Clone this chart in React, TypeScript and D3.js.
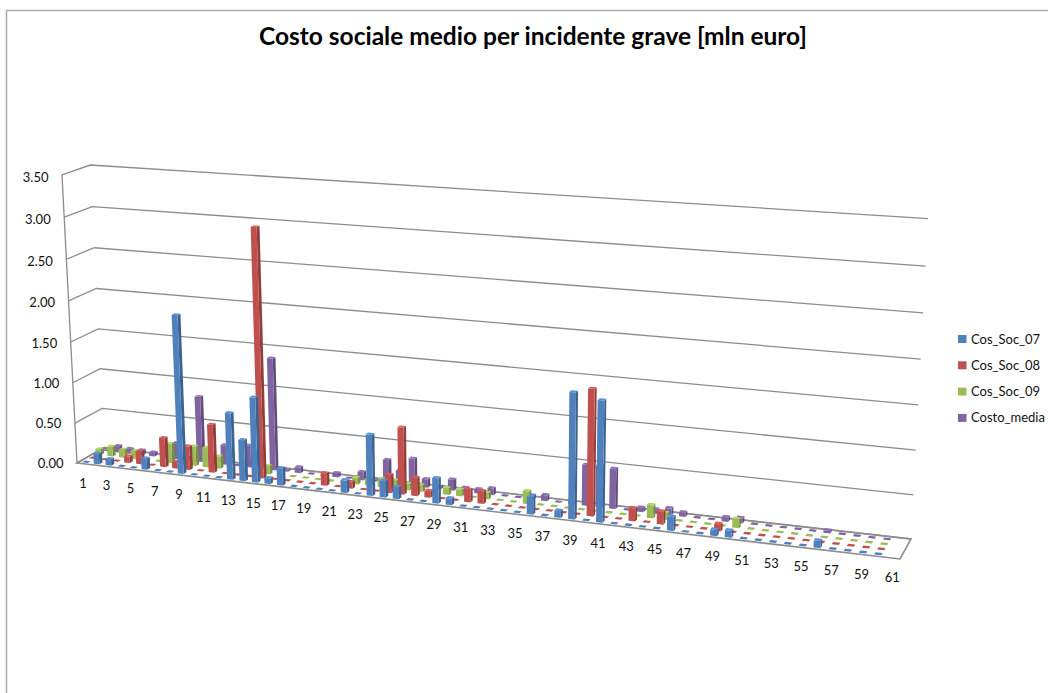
import React from "react";
import * as d3 from "d3";

const title = "Costo sociale medio per incidente grave [mln euro]";
const seriesNames = ["Cos_Soc_07", "Cos_Soc_08", "Cos_Soc_09", "Costo_media"];
const seriesColors = ["#4F81BD", "#C0504D", "#9BBB59", "#8064A2"];
const categories = d3.range(1, 62);
const yTicks = [0, 0.5, 1, 1.5, 2, 2.5, 3, 3.5];

const cosSoc07 = [
  0, 0.13, 0.08, 0, 0, 0.14, 0, 0, 1.93, 0,
  0, 0, 0.81, 0.5, 1.03, 0.07, 0.21, 0, 0, 0,
  0, 0.15, 0, 0.73, 0.2, 0.14, 0, 0, 0.3, 0.08,
  0, 0, 0, 0, 0, 0.21, 0, 0.08, 1.46, 0,
  1.4, 0, 0, 0, 0, 0.16, 0, 0, 0.07, 0.08,
  0, 0, 0, 0, 0, 0.08, 0, 0, 0, 0,
  null,
];
const cosSoc08 = [
  0, 0, 0, 0.08, 0.16, 0, 0.36, 0.08, 0.29, 0,
  0.59, 0, 0, 0, 3.0, 0, 0, 0, 0, 0.15,
  0, 0.08, 0, 0, 0.22, 0.8, 0.22, 0.08, 0, 0,
  0.15, 0.15, 0, 0, 0, 0, 0, 0, 0, 1.47,
  0, 0, 0.15, 0, 0.15, 0, 0, 0, 0.08, 0,
  0, 0, 0, 0, 0, 0, 0, 0, 0, 0,
  null,
];
const cosSoc09 = [
  0.07, 0.12, 0.1, 0.1, 0, 0, 0.24, 0, 0.24, 0.24,
  0.15, 0, 0, 0, 0.1, 0, 0, 0, 0, 0,
  0, 0.08, 0.08, 0.1, 0.1, 0.08, 0.08, 0, 0.08, 0.08,
  0, 0.08, 0, 0, 0.15, 0, 0, 0, 0, 0,
  0, 0, 0, 0.15, 0.08, 0, 0, 0, 0, 0.1,
  0, 0, 0, 0, 0, 0, 0, 0, 0, 0,
  null,
];
const costoMedia = [
  0.02, 0.08, 0.06, 0.06, 0.05, 0.05, 0.2, 0.03, 0.81, 0.08,
  0.24, 0, 0.27, 0.17, 1.37, 0.02, 0.07, 0, 0, 0.05,
  0, 0.1, 0.03, 0.28, 0.17, 0.33, 0.1, 0.03, 0.13, 0.05,
  0.05, 0.08, 0, 0, 0.05, 0.07, 0, 0.03, 0.48, 0.49,
  0.47, 0, 0.05, 0.05, 0.08, 0.05, 0, 0, 0.05, 0.06,
  0, 0, 0, 0, 0, 0.03, 0, 0, 0, 0,
  null,
];
const seriesValues = [cosSoc07, cosSoc08, cosSoc09, costoMedia];

const FONT = "Lato, Carlito, Calibri, sans-serif";

// Floor corners in screen space: front-left, front-right, back-right, back-left.
const FL = [77, 463];
const FR = [900, 559];
const BR = [911, 539];
const BL = [104, 447.5];
// Vertical vanishing point and the homogeneous weight of the value axis.
const VP = [491, 8410];
const WEIGHT_T = -0.035;

// Projective camera: homography for the floor plus a term for height.
function makeCamera() {
  const dx1 = [FR[0] - BR[0], FR[1] - BR[1]];
  const dx2 = [BL[0] - BR[0], BL[1] - BR[1]];
  const s = [FL[0] - FR[0] + BR[0] - BL[0], FL[1] - FR[1] + BR[1] - BL[1]];
  const det = dx1[0] * dx2[1] - dx1[1] * dx2[0];
  const g = (s[0] * dx2[1] - s[1] * dx2[0]) / det;
  const h = (dx1[0] * s[1] - dx1[1] * s[0]) / det;
  const a = [FR[0] - FL[0] + g * FR[0], FR[1] - FL[1] + g * FR[1]];
  const b = [BL[0] - FL[0] + h * BL[0], BL[1] - FL[1] + h * BL[1]];
  return (u: number, v: number, t: number): [number, number] => {
    const w = 1 + g * u + h * v + WEIGHT_T * t;
    return [
      (a[0] * u + b[0] * v + FL[0] + VP[0] * WEIGHT_T * t) / w,
      (a[1] * u + b[1] * v + FL[1] + VP[1] * WEIGHT_T * t) / w,
    ];
  };
}
const project = makeCamera();

const xScale = d3.scaleBand<number>().domain(categories).range([0, 1]);
const zScale = d3
  .scaleBand<string>()
  .domain(seriesNames)
  .range([0, 1]);
const tScale = d3.scaleLinear().domain([0, 3.5]).range([0, 1]);

const BAR_U = 0.47;
const BAR_V = 0.45;

const poly = (pts: [number, number][]) =>
  "M" + pts.map((p) => `${p[0].toFixed(2)},${p[1].toFixed(2)}`).join("L") + "Z";

function Bar({ cat, value, name, color }: { cat: number; value: number; name: string; color: string }) {
  const cu = xScale(cat)! + xScale.bandwidth() / 2;
  const cv = zScale(name)! + zScale.bandwidth() / 2;
  const du = (xScale.bandwidth() * BAR_U) / 2;
  const dv = (zScale.bandwidth() * BAR_V) / 2;
  const t = tScale(value);
  const u0 = cu - du, u1 = cu + du, v0 = cv - dv, v1 = cv + dv;
  const top = d3.color(color)!.brighter(0.35).formatHex();
  const side = d3.color(color)!.darker(0.75).formatHex();
  return (
    <g>
      {value > 0 && (
        <>
          <path d={poly([project(u1, v0, 0), project(u1, v1, 0), project(u1, v1, t), project(u1, v0, t)])} fill={side} />
          <path d={poly([project(u0, v0, 0), project(u1, v0, 0), project(u1, v0, t), project(u0, v0, t)])} fill={color} />
        </>
      )}
      <path d={poly([project(u0, v0, t), project(u1, v0, t), project(u1, v1, t), project(u0, v1, t)])} fill={value > 0 ? top : color} />
    </g>
  );
}

export default function App() {
  const gridColor = "#8C8C8C";
  return (
    <svg
      width={1048}
      height={693}
      viewBox="0 0 1048 693"
      style={{ position: "fixed", left: 0, top: 0, background: "#fff" }}
      fontFamily={FONT}
    >
      {/* chart frame, open on the right and at the bottom */}
      <path d="M6.5,693V10.5H1048" fill="none" stroke="#ABABAB" strokeWidth={1.5} />

      <text x={533} y={45} textAnchor="middle" fontSize={24.5} fontWeight={700} fill="#000">
        {title}
      </text>

      {/* side wall and back wall gridlines */}
      <g fill="none" stroke={gridColor} strokeWidth={1.3}>
        <path d={poly([project(0, 0, 0), project(1, 0, 0), project(1, 1, 0), project(0, 1, 0)])} strokeWidth={1.6} />
        <path d={`M${project(0, 0, 0)}L${project(0, 0, 1)}`} />
        {yTicks.map((tick) => {
          const t = tScale(tick);
          return <path key={tick} d={`M${project(0, 0, t)}L${project(0, 1, t)}L${project(1, 1, t)}`} />;
        })}
      </g>

      {/* value axis labels */}
      <g fontSize={13} fill="#111" textAnchor="end">
        {yTicks.map((tick) => {
          const t = tScale(tick);
          const [x, y] = project(0, 0, t);
          return (
            <text key={tick} x={x - 13.5} y={y + 4.5 + 2.5 * t}>
              {tick.toFixed(2)}
            </text>
          );
        })}
      </g>

      {/* rows run from the back wall to the front, each row left to right */}
      {[3, 2, 1, 0].map((s) => (
        <g key={seriesNames[s]}>
          {categories.map((cat, i) => {
            const value = seriesValues[s][i];
            if (value === null) return null;
            return <Bar key={cat} cat={cat} value={value} name={seriesNames[s]} color={seriesColors[s]} />;
          })}
        </g>
      ))}

      {/* category labels, every second one */}
      <g fontSize={13} fill="#111" textAnchor="middle">
        {categories
          .filter((c) => c % 2 === 1)
          .map((cat) => {
            const [x, y] = project(xScale(cat)! + xScale.bandwidth() / 2, 0, 0);
            return (
              <text key={cat} x={x} y={y + 24}>
                {cat}
              </text>
            );
          })}
      </g>

      {/* legend */}
      {seriesNames.map((name, i) => (
        <g key={name} transform={`translate(958,${335 + i * 26.3})`}>
          <rect width={8.5} height={8} fill={seriesColors[i]} />
          <text x={13} y={8.5} fontSize={13} fill="#111">
            {name}
          </text>
        </g>
      ))}
    </svg>
  );
}
